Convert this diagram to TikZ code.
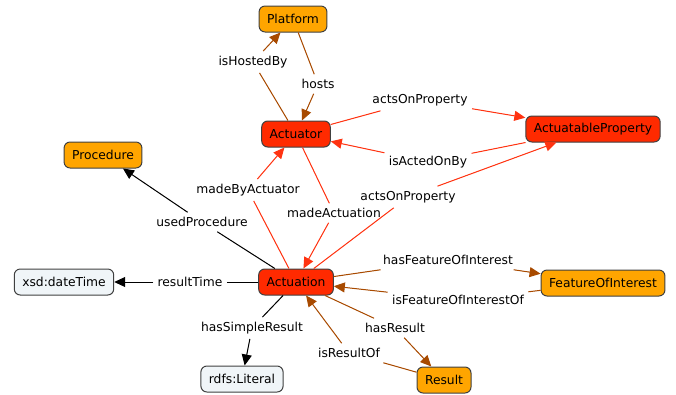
\documentclass[tikz,border=0pt]{standalone}
\usepackage{fontspec}
\setmainfont{DejaVu Sans}
\usetikzlibrary{arrows.meta}
\definecolor{conceptorange}{HTML}{FFA500}
\definecolor{conceptred}{HTML}{FF2A00}
\definecolor{literalgray}{HTML}{F0F5F8}
\definecolor{linkbrown}{HTML}{A84A00}
\definecolor{linkred}{HTML}{FF3311}
\tikzstyle{concept}=[rounded corners=6pt,draw=black!75,inner xsep=8pt,minimum height=26pt,font=\fontsize{12.3}{14}\selectfont]
\tikzstyle{cls}=[concept,fill=conceptorange]
\tikzstyle{core}=[concept,fill=conceptred]
\tikzstyle{lit}=[concept,fill=literalgray]
\tikzstyle{rel}=[inner xsep=4pt,inner ysep=4.5pt,font=\fontsize{12.3}{14}\selectfont]
\tikzstyle{arrow}=[-{Triangle[length=11pt,width=10pt]}]
\tikzstyle{brownlink}=[draw=linkbrown,fill=linkbrown]
\tikzstyle{redlink}=[draw=linkred,fill=linkred]
\tikzstyle{blacklink}=[draw=black,fill=black]
\tikzset{every picture/.style={
    line width=1pt
  }
}

\begin{document}
\begin{tikzpicture}[x=1pt,y=-1pt]
  \useasboundingbox (0,0) rectangle (676,394);
  % concepts
  \node[cls] at (293,19) (platform) {Platform};
  \node[core] at (296,134) (actuator) {Actuator};
  \node[core] at (593,129) (property) {ActuatableProperty};
  \node[cls] at (103,155) (procedure) {Procedure};
  \node[lit] at (64,282) (datetime) {xsd:dateTime};
  \node[core] at (296,282) (actuation) {Actuation};
  \node[cls] at (603,283) (feature) {FeatureOfInterest};
  \node[lit] at (242,379) (literal) {rdfs:Literal};
  \node[cls] at (444,380) (result) {Result};
  % link labels
  \node[rel] at (253,62) (hostedby) {isHostedBy};
  \node[rel] at (318,84) (hosts) {hosts};
  \node[rel] at (420,100) (actson) {actsOnProperty};
  \node[rel] at (428,162) (actedon) {isActedOnBy};
  \node[rel] at (202,222) (usedproc) {usedProcedure};
  \node[rel] at (190,282) (restime) {resultTime};
  \node[rel] at (248,190) (madeby) {madeByActuator};
  \node[rel] at (334,213) (madeact) {madeActuation};
  \node[rel] at (408,197) (actsontwo) {actsOnProperty};
  \node[rel] at (448,260) (hasfoi) {hasFeatureOfInterest};
  \node[rel] at (458,300) (isfoi) {isFeatureOfInterestOf};
  \node[rel] at (252,328) (simple) {hasSimpleResult};
  \node[rel] at (395,328) (hasres) {hasResult};
  \node[rel] at (349,353) (isres) {isResultOf};
  % links
  \draw[brownlink] (actuator) -- (hostedby);
  \draw[brownlink,arrow] (hostedby) -- (platform);
  \draw[brownlink] (platform) -- (hosts);
  \draw[brownlink,arrow] (hosts) -- (actuator);
  \draw[redlink] (actuator) -- (actson);
  \draw[redlink,arrow] (actson) -- (property);
  \draw[redlink] (property) -- (actedon);
  \draw[redlink,arrow] (actedon) -- (actuator);
  \draw[blacklink] (actuation) -- (usedproc);
  \draw[blacklink,arrow] (usedproc) -- (procedure);
  \draw[blacklink] (actuation) -- (restime);
  \draw[blacklink,arrow] (restime) -- (datetime);
  \draw[redlink] (actuation) -- (madeby);
  \draw[redlink,arrow] (madeby) -- (actuator);
  \draw[redlink] (actuator) -- (madeact);
  \draw[redlink,arrow] (madeact) -- (actuation);
  \draw[redlink] (actuation) -- (actsontwo);
  \draw[redlink,arrow] (actsontwo) -- (property);
  \draw[brownlink] (actuation) -- (hasfoi);
  \draw[brownlink,arrow] (hasfoi) -- (feature);
  \draw[brownlink] (feature) -- (isfoi);
  \draw[brownlink,arrow] (isfoi) -- (actuation);
  \draw[blacklink] (actuation) -- (simple);
  \draw[blacklink,arrow] (simple) -- (literal);
  \draw[brownlink] (actuation) -- (hasres);
  \draw[brownlink,arrow] (hasres) -- (result);
  \draw[brownlink] (result) -- (isres);
  \draw[brownlink,arrow] (isres) -- (actuation);
\end{tikzpicture}
\end{document}
